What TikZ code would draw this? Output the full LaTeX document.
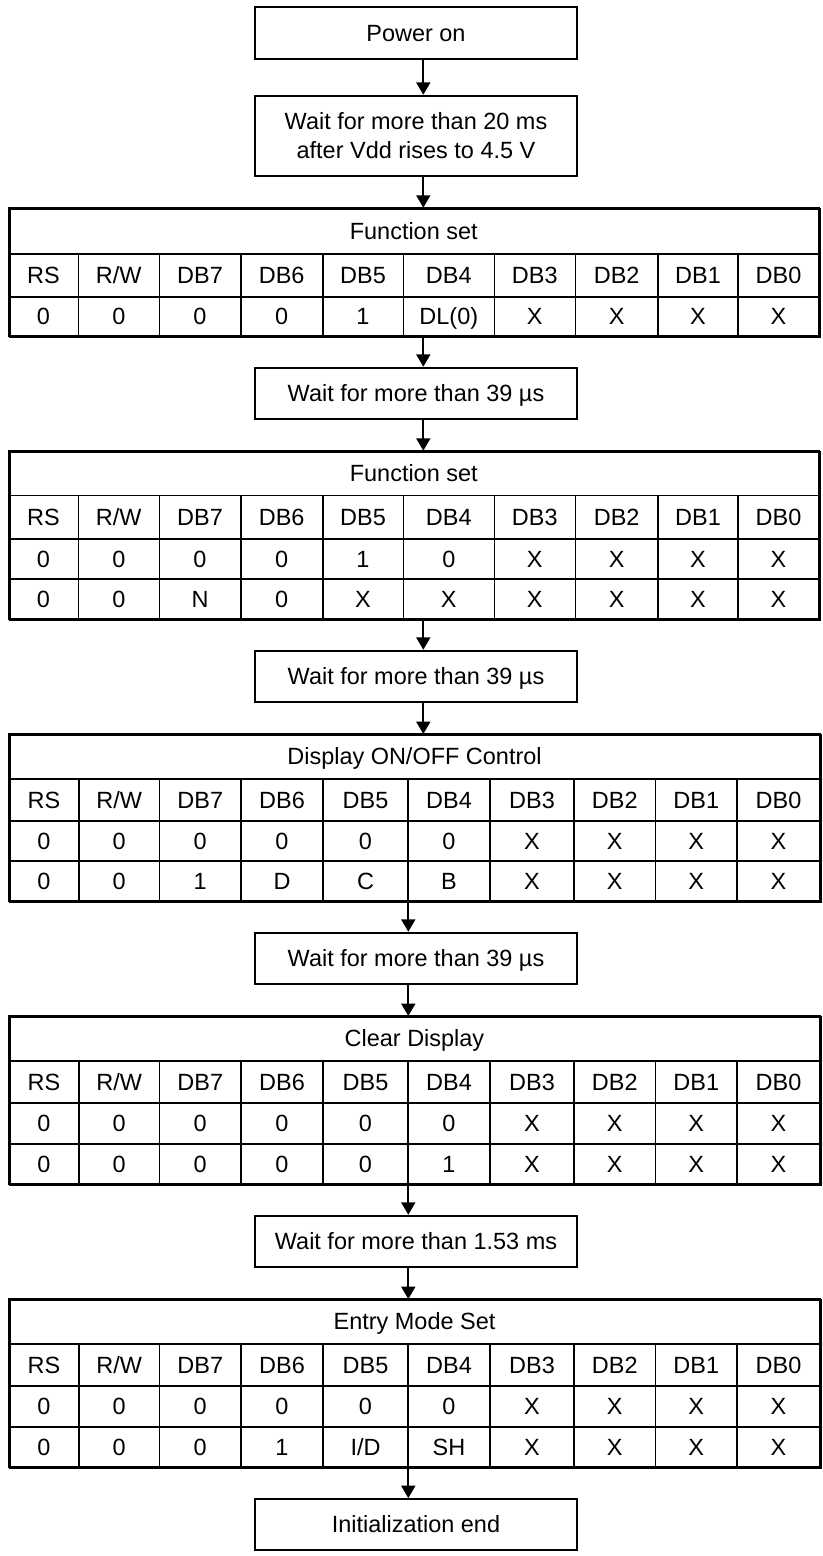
\documentclass[tikz,border=0pt]{standalone}
\usepackage{fontspec}
\setmainfont{Liberation Sans}
\usetikzlibrary{arrows.meta}
\tikzset{
  box/.style={draw, line width=1.4pt, inner sep=0pt, align=center,
    minimum width=241.1pt, font=\fontsize{17.6}{21.7}\selectfont},
  onel/.style={text height=12.6pt, text depth=0pt},
  cell/.style={draw, line width=1.2pt, inner sep=0pt, text height=12.6pt, text depth=0pt,
    font=\fontsize{17.6}{21.7}\selectfont},
  frame/.style={draw, line width=1.6pt, inner sep=0pt},
  arr/.style={line width=1.3pt, -{Triangle[width=10.5pt,length=9.3pt]}}
}
\def\colsA{{8.5,78.3,159.3,240.7,322.7,403.3,494.3,575.3,658,738,819}}
\def\colsB{{9,79,159.5,241,323,408,490,574,655.5,737,820}}
% #1 name prefix, #2 y top, #3 y bottom, #4 columns, #5 texts
\newcommand\tabrow[5]{%
  \foreach \t [count=\i from 0] in {#5} {
    \pgfmathsetmacro\myxl{#4[\i]}
    \pgfmathsetmacro\myxr{#4[\i+1]}
    \pgfmathsetmacro\mycw{(\myxr-\myxl)*0.75}
    \pgfmathsetmacro\mych{(#3-#2)*0.75}
    \pgfmathsetmacro\myxc{(\myxl+\myxr)/2}
    \pgfmathsetmacro\myyc{(#2+#3)/2}
    \node[cell, minimum width=\mycw pt, minimum height=\mych pt] (#1-\i) at (\myxc,\myyc) {\t};
  }%
}
% #1 name, #2 columns, #3 left, #4 right, #5 top, #6 bottom, #7 title, #8 title bottom
\newcommand\tabframe[8]{%
  \pgfmathsetmacro\mytw{(#4-#3)*0.75}
  \pgfmathsetmacro\mytf{(#6-#5)*0.75}
  \pgfmathsetmacro\mytt{(#8-#5)*0.75}
  \pgfmathsetmacro\myxc{(#3+#4)/2}
  \pgfmathsetmacro\myyc{(#5+#8)/2}
  \node[cell, minimum width=\mytw pt, minimum height=\mytt pt] (#1-title) at (\myxc,\myyc) {#7};
  \node[frame, minimum width=\mytw pt, minimum height=\mytf pt, anchor=north west] (#1) at (#3,#5) {};
}
\begin{document}
\begin{tikzpicture}[x=0.75pt,y=-0.75pt]
\useasboundingbox (0,0) rectangle (823,1556);
\coordinate (xa) at (423.3,0);
\coordinate (xb) at (408.3,0);

% boxes
\node[box, onel, minimum height=39pt] (b1) at (416,33.3) {Power on};
\node[box, minimum height=60.2pt] (b2) at (416,135.85) {Wait for more than 20 ms\\after Vdd rises to 4.5 V};
\node[box, onel, minimum height=38.5pt] (w1) at (416,393.35) {Wait for more than 39 µs};
\node[box, onel, minimum height=38.5pt] (w2) at (416,676.35) {Wait for more than 39 µs};
\node[box, onel, minimum height=38.5pt] (w3) at (416,958.35) {Wait for more than 39 µs};
\node[box, onel, minimum height=38.5pt] (w4) at (416,1241.35) {Wait for more than 1.53 ms};
\node[box, onel, minimum height=38.2pt] (e) at (416,1524.5) {Initialization end};

% table 1
\tabrow{t1h}{254.2}{296.7}{\colsA}{RS,R/W,DB7,DB6,DB5,DB4,DB3,DB2,DB1,DB0}
\tabrow{t1a}{296.7}{335.7}{\colsA}{0,0,0,0,1,DL(0),X,X,X,X}
\tabframe{t1}{\colsA}{8.5}{819}{207.7}{335.7}{Function set}{254.2}

% table 2
\tabrow{t2h}{495.3}{538.7}{\colsA}{RS,R/W,DB7,DB6,DB5,DB4,DB3,DB2,DB1,DB0}
\tabrow{t2a}{538.7}{578.7}{\colsA}{0,0,0,0,1,0,X,X,X,X}
\tabrow{t2b}{578.7}{619}{\colsA}{0,0,N,0,X,X,X,X,X,X}
\tabframe{t2}{\colsA}{8.5}{819}{450.7}{619}{Function set}{495.3}

% table 3
\tabrow{t3h}{779}{820.7}{\colsB}{RS,R/W,DB7,DB6,DB5,DB4,DB3,DB2,DB1,DB0}
\tabrow{t3a}{820.7}{861}{\colsB}{0,0,0,0,0,0,X,X,X,X}
\tabrow{t3b}{861}{901}{\colsB}{0,0,1,D,C,B,X,X,X,X}
\tabframe{t3}{\colsB}{9}{820}{734}{901}{Display ON/OFF Control}{779}

% table 4
\tabrow{t4h}{1060.7}{1103}{\colsB}{RS,R/W,DB7,DB6,DB5,DB4,DB3,DB2,DB1,DB0}
\tabrow{t4a}{1103}{1144}{\colsB}{0,0,0,0,0,0,X,X,X,X}
\tabrow{t4b}{1144}{1184}{\colsB}{0,0,0,0,0,1,X,X,X,X}
\tabframe{t4}{\colsB}{9}{820}{1016}{1184}{Clear Display}{1060.7}

% table 5
\tabrow{t5h}{1344}{1386}{\colsB}{RS,R/W,DB7,DB6,DB5,DB4,DB3,DB2,DB1,DB0}
\tabrow{t5a}{1386}{1426.7}{\colsB}{0,0,0,0,0,0,X,X,X,X}
\tabrow{t5b}{1426.7}{1466.7}{\colsB}{0,0,0,1,I/D,SH,X,X,X,X}
\tabframe{t5}{\colsB}{9}{820}{1299}{1466.7}{Entry Mode Set}{1344}

% connectors
\draw[arr] (b1.south -| xa) -- (b2.north -| xa);
\draw[arr] (b2.south -| xa) -- (t1.north -| xa);
\draw[arr] (t1.south -| xa) -- (w1.north -| xa);
\draw[arr] (w1.south -| xa) -- (t2.north -| xa);
\draw[arr] (t2.south -| xa) -- (w2.north -| xa);
\draw[arr] (w2.south -| xa) -- (t3.north -| xa);
\draw[arr] (t3.south -| xb) -- (w3.north -| xb);
\draw[arr] (w3.south -| xb) -- (t4.north -| xb);
\draw[arr] (t4.south -| xb) -- (w4.north -| xb);
\draw[arr] (w4.south -| xb) -- (t5.north -| xb);
\draw[arr] (t5.south -| xb) -- (e.north -| xb);
\end{tikzpicture}
\end{document}
